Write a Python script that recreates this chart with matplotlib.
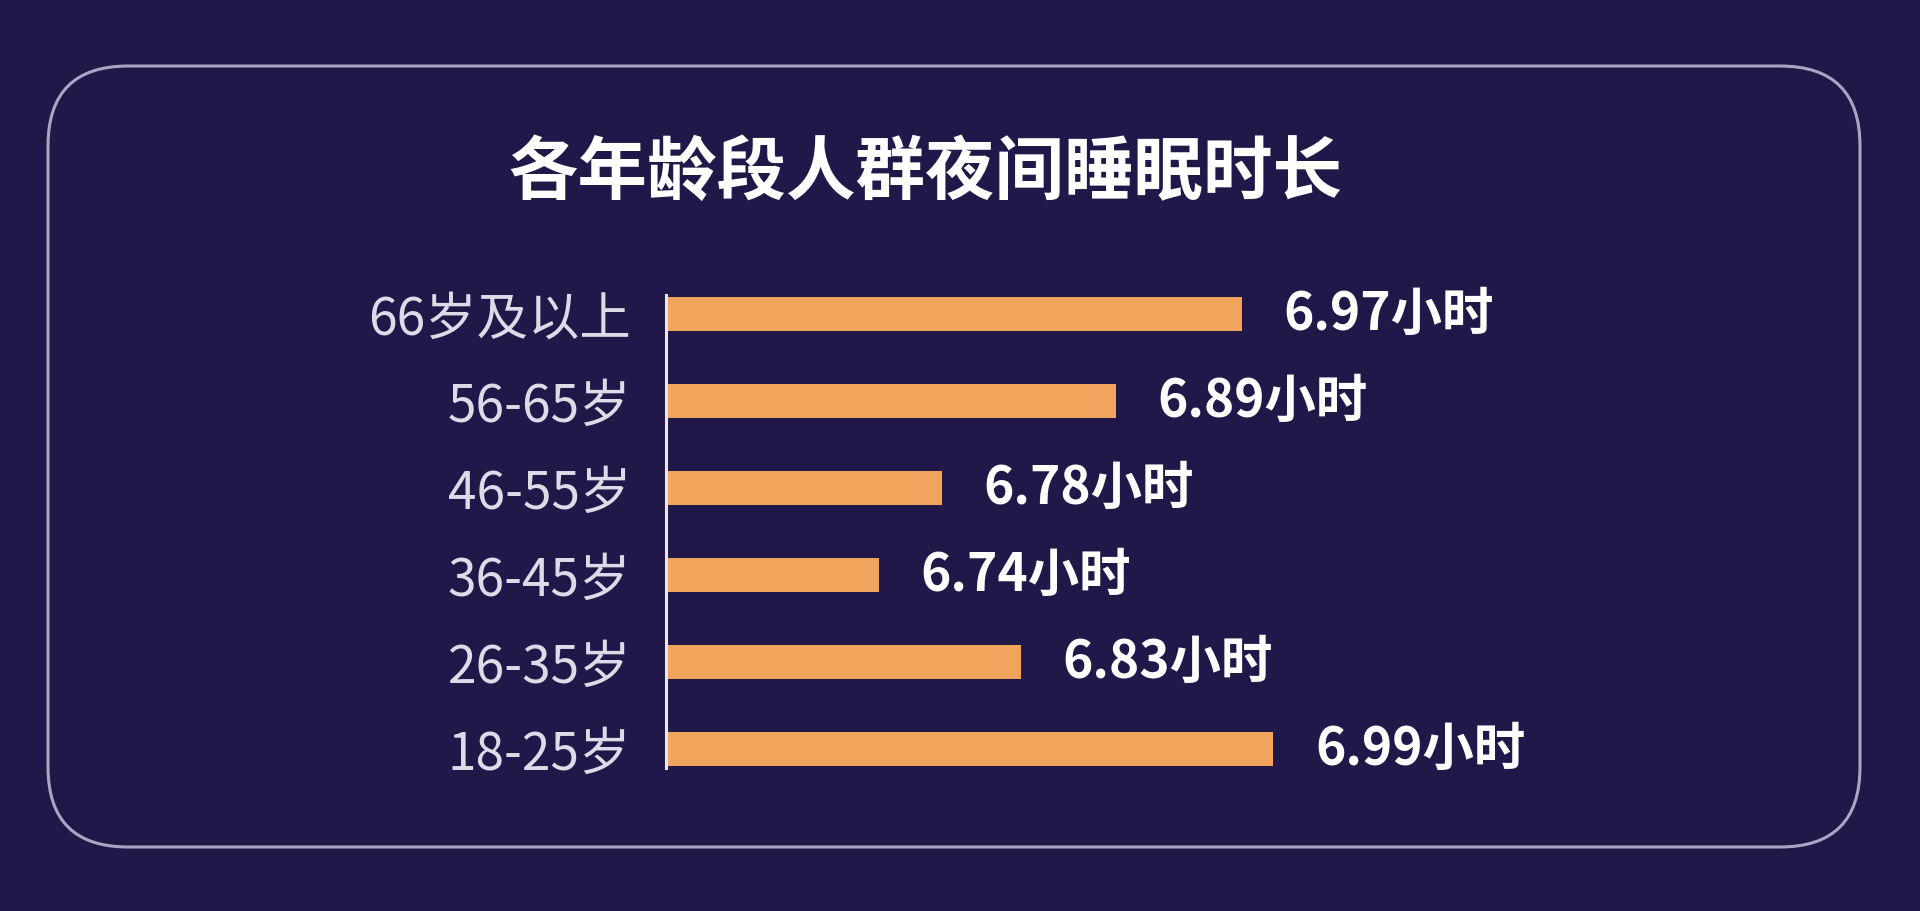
import matplotlib
matplotlib.use("Agg")
import matplotlib.pyplot as plt
from matplotlib.patches import FancyBboxPatch

plt.rcParams['font.family'] = ['Noto Sans CJK SC', 'DejaVu Sans']

# Data (bottom to top)
categories = ["18-25岁", "26-35岁", "36-45岁", "46-55岁", "56-65岁", "66岁及以上"]
hours = [6.99, 6.83, 6.74, 6.78, 6.89, 6.97]
unit = "小时"
title = "各年龄段人群夜间睡眠时长"

BG = "#211849"
BAR = "#f0a45c"

W, H = 1920, 911
fig = plt.figure(figsize=(W / 100, H / 100), dpi=100, facecolor=BG)

# Background layer with rounded frame (pixel coordinates)
bg = fig.add_axes([0, 0, 1, 1])
bg.set_xlim(0, W)
bg.set_ylim(H, 0)
bg.axis("off")
bg.set_facecolor(BG)
frame = FancyBboxPatch((48, 66), 1812, 781,
                       boxstyle="round,pad=0,rounding_size=80",
                       facecolor="none", edgecolor="#a9a5c2", linewidth=2.2)
bg.add_patch(frame)

fig.text(925 / W, 1 - 174 / H, title, ha="center", va="center",
         color="white", fontsize=50, fontweight="bold")

# Bar chart axes
ax = fig.add_axes([666 / W, 1 - 768 / H, (1860 - 666) / W, (768 - 295) / H])
ax.set_facecolor("none")
y = list(range(len(categories)))
ax.barh(y, hours, height=0.39, color=BAR, left=0)
ax.set_xlim(6.605, 7.362)
ax.set_ylim(-0.218, len(categories) - 1 + 0.218)

for s in ["top", "right", "bottom"]:
    ax.spines[s].set_visible(False)
ax.spines["left"].set_color("#e8e6f0")
ax.spines["left"].set_linewidth(2.2)
ax.set_xticks([])
ax.set_yticks(y)
ax.set_yticklabels(categories, fontsize=37, color="#dddbe8", fontweight="light")
ax.tick_params(axis="y", length=0, pad=25)

for yi, v in zip(y, hours):
    ax.annotate(f"{v:.2f}{unit}", xy=(v, yi), xytext=(30, 0),
                textcoords="offset points", ha="left", va="center",
                color="white", fontsize=37, fontweight="semibold")

fig.savefig("out.png", dpi=100, facecolor=BG)
